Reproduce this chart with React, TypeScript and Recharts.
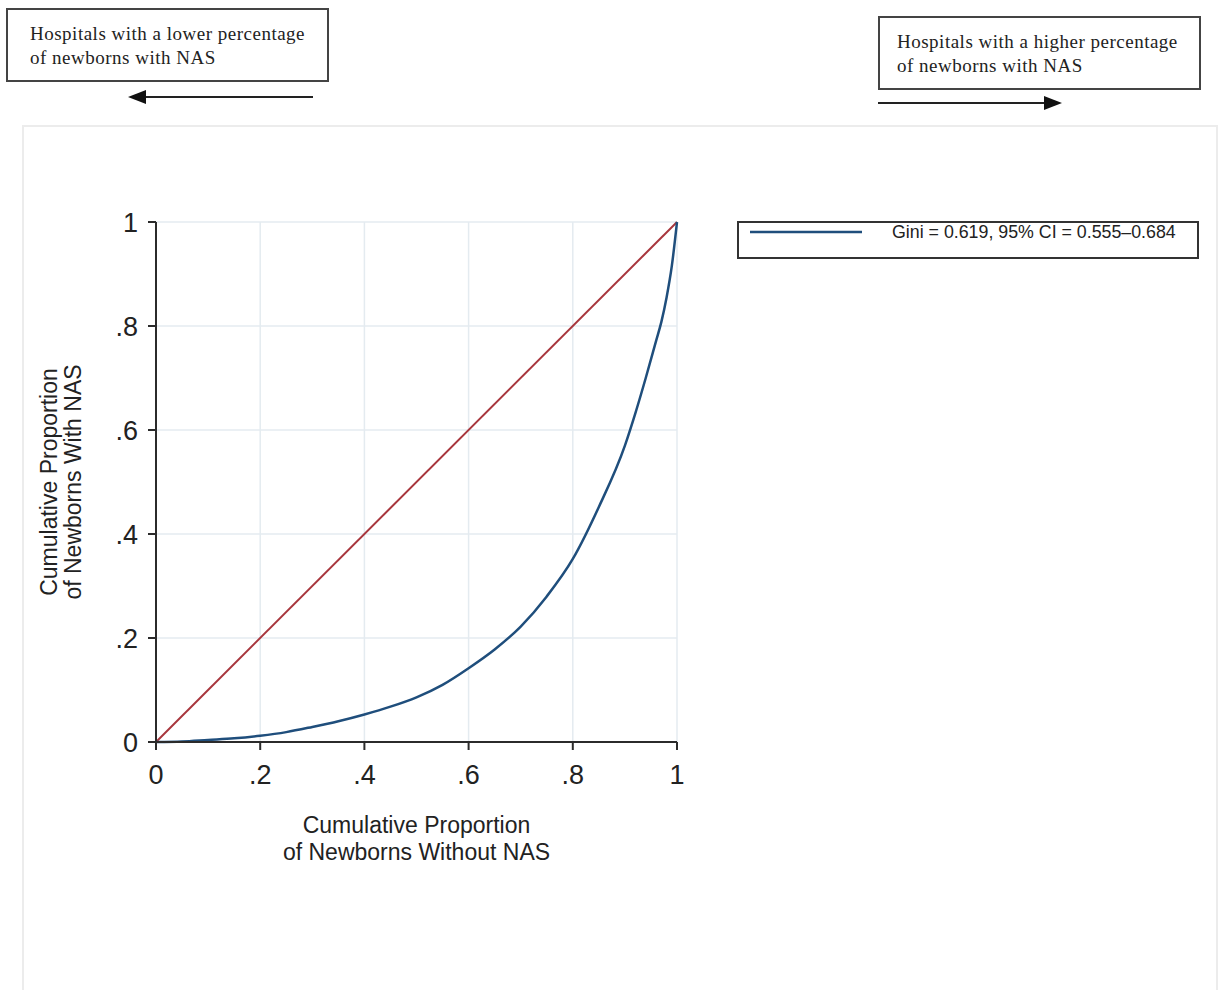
import React from "react";
import { LineChart, Line, XAxis, YAxis, CartesianGrid, Legend, Label } from "recharts";

const equalityX = [0, 1];
const equalityY = [0, 1];

const lorenzX = [0, 0.05, 0.1, 0.15, 0.2, 0.25, 0.3, 0.35, 0.4, 0.45, 0.5, 0.55, 0.6, 0.65, 0.7, 0.75, 0.8, 0.85, 0.9, 0.92, 0.94, 0.96, 0.97, 0.98, 0.99, 1];
const lorenzY = [0, 0.001, 0.004, 0.007, 0.012, 0.019, 0.029, 0.04, 0.053, 0.068, 0.086, 0.11, 0.142, 0.178, 0.222, 0.28, 0.352, 0.452, 0.57, 0.632, 0.7, 0.772, 0.808, 0.855, 0.915, 1];

const axisTicks = [0, 0.2, 0.4, 0.6, 0.8, 1];

const legendLabel = "Gini = 0.619, 95% CI = 0.555–0.684";
const xTitle = ["Cumulative Proportion", "of Newborns Without NAS"];
const yTitle = ["Cumulative Proportion", "of Newborns With NAS"];
const leftNote = ["Hospitals with a lower percentage", "of newborns with NAS"];
const rightNote = ["Hospitals with a higher percentage", "of newborns with NAS"];

const equalityData = equalityX.map((x, i) => ({ x, y: equalityY[i] }));
const lorenzData = lorenzX.map((x, i) => ({ x, y: lorenzY[i] }));

const SANS = "'Liberation Sans', Arial, Helvetica, sans-serif";
const SERIF = "'Liberation Serif', 'Times New Roman', serif";
const AXIS = "#2b2b2b";
const RED = "#a8363d";
const BLUE = "#1f4e7c";

const fmt = (v: number) => (v === 0 ? "0" : v === 1 ? "1" : String(v).replace(/^0/, ""));

const XTitle = (props: any) => {
  const vb = props.viewBox || { x: 156, y: 742, width: 521 };
  const cx = vb.x + vb.width / 2;
  return (
    <g>
      <text x={cx} y={742 + 83} textAnchor="middle" dominantBaseline="central" fontSize={23} fill="#222" fontFamily={SANS}>{xTitle[0]}</text>
      <text x={cx} y={742 + 110} textAnchor="middle" dominantBaseline="central" fontSize={23} fill="#222" fontFamily={SANS}>{xTitle[1]}</text>
    </g>
  );
};

const YTitle = (props: any) => {
  const vb = props.viewBox || { y: 222, height: 520 };
  const cy = vb.y + vb.height / 2;
  const xs = [49, 73];
  return (
    <g>
      {yTitle.map((t, i) => (
        <text key={i} x={xs[i]} y={cy} transform={`rotate(-90, ${xs[i]}, ${cy})`} textAnchor="middle" dominantBaseline="central" fontSize={23} fill="#222" fontFamily={SANS}>{t}</text>
      ))}
    </g>
  );
};

const LegendBox = () => (
  <div style={{ width: 462, height: 38, border: "2px solid #333", boxSizing: "border-box", position: "relative", background: "#fff" }}>
    <svg width={114} height={6} style={{ position: "absolute", left: 11, top: 6 }}>
      <line x1={0} y1={3} x2={112} y2={3} stroke={BLUE} strokeWidth={2.5} />
    </svg>
    <span style={{ position: "absolute", left: 153, top: -1, fontFamily: SANS, fontSize: 17.8, color: "#222", lineHeight: "20px", whiteSpace: "nowrap" }}>{legendLabel}</span>
  </div>
);

const NoteBox = ({ lines, left, top, pad }: { lines: string[]; left: number; top: number; pad: number }) => (
  <div style={{ position: "absolute", left, top, width: 323, height: 74, border: "2px solid #444", boxSizing: "border-box", fontFamily: SERIF, fontSize: 19, letterSpacing: 0.5, color: "#222", lineHeight: "24px", padding: `12px 0 0 ${pad}px`, background: "#fff" }}>
    {lines.map((l, i) => (
      <div key={i} style={{ whiteSpace: "nowrap" }}>{l}</div>
    ))}
  </div>
);

export default function App() {
  return (
    <div style={{ position: "absolute", left: 0, top: 0, width: 1220, height: 990, background: "#fff", overflow: "hidden" }}>
      <div style={{ position: "absolute", left: 22, top: 125, width: 1196, height: 880, border: "2px solid #ececec", boxSizing: "border-box" }} />
      <NoteBox lines={leftNote} left={6} top={8} pad={22} />
      <NoteBox lines={rightNote} left={878} top={16} pad={17} />
      <svg width={1220} height={120} style={{ position: "absolute", left: 0, top: 0 }}>
        <line x1={313} y1={97} x2={142} y2={97} stroke="#222" strokeWidth={2} />
        <polygon points="128,97 146,90 146,104" fill="#111" />
        <line x1={878} y1={103} x2={1048} y2={103} stroke="#222" strokeWidth={2} />
        <polygon points="1062,103 1044,96 1044,110" fill="#111" />
      </svg>
      <div style={{ position: "absolute", left: 0, top: 0 }}>
        <LineChart width={1220} height={990} margin={{ top: 222, right: 543, bottom: 150, left: 96 }}>
          <CartesianGrid stroke="#e4ebf0" strokeWidth={1.5} />
          <XAxis
            type="number"
            dataKey="x"
            domain={[0, 1]}
            ticks={axisTicks}
            tickFormatter={fmt}
            height={60}
            allowDuplicatedCategory={false}
            stroke={AXIS}
            strokeWidth={2}
            tickSize={8}
            tickMargin={15}
            tick={{ fontSize: 27, fill: "#222", fontFamily: SANS }}
          >
            <Label content={<XTitle />} position="bottom" />
          </XAxis>
          <YAxis
            type="number"
            dataKey="y"
            domain={[0, 1]}
            ticks={axisTicks}
            tickFormatter={fmt}
            width={60}
            stroke={AXIS}
            strokeWidth={2}
            tickSize={8}
            tickMargin={10}
            tick={{ fontSize: 27, fill: "#222", fontFamily: SANS }}
          >
            <Label content={<YTitle />} position="left" />
          </YAxis>
          <Legend
            content={<LegendBox />}
            wrapperStyle={{ position: "absolute", left: 737, top: 221, width: 462, height: 38 }}
          />
          <Line data={equalityData} dataKey="y" type="linear" stroke={RED} strokeWidth={2} dot={false} isAnimationActive={false} legendType="none" />
          <Line data={lorenzData} dataKey="y" type="monotone" stroke={BLUE} strokeWidth={2.5} dot={false} isAnimationActive={false} name={legendLabel} />
        </LineChart>
      </div>
    </div>
  );
}
